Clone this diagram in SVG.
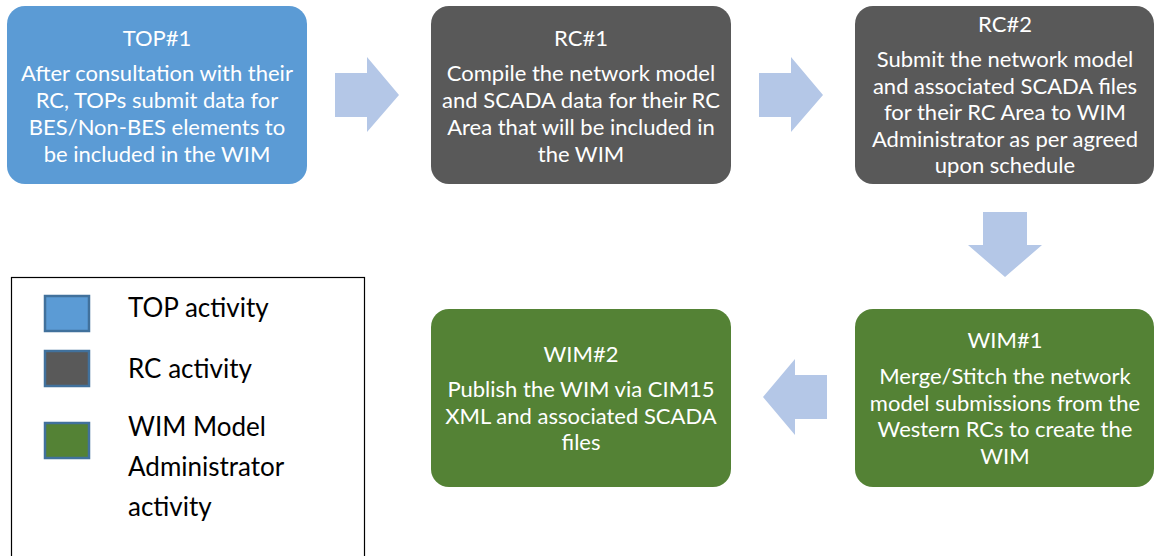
<svg xmlns="http://www.w3.org/2000/svg" width="1155" height="556" viewBox="0 0 1155 556">
<style>
.t{font-family:Lato,"Open Sans","Liberation Sans",sans-serif;font-size:22px;fill:#ffffff;text-anchor:middle}
.lg{font-family:Lato,"Open Sans","Liberation Sans",sans-serif;font-size:26px;fill:#000000}
.arr{fill:#B4C7E7}
.sw{stroke:#41719C;stroke-width:2.5}
</style>
<rect width="1155" height="556" fill="#ffffff"/>
<g id="connectors">
<path class="arr" d="M335,73 H367 V57 L399,95 L367,132 V117 H335 Z"/>
<path class="arr" d="M759,73 H791 V57 L823,95 L791,132 V117 H759 Z"/>
<path class="arr" d="M983,212 H1027 V245 H1042 L1005,277 L968,245 H983 Z"/>
<path class="arr" d="M827,375 H795 V359 L763,397 L795,435 V419 H827 Z"/>
</g>
<g id="top1">
<rect x="7" y="6" width="300" height="178" rx="18" fill="#5B9BD5"/>
<text class="t" x="157" y="46">TOP#1</text>
<text class="t" x="157" y="81">After consultation with their</text>
<text class="t" x="157" y="108">RC, TOPs submit data for</text>
<text class="t" x="157" y="135">BES/Non-BES elements to</text>
<text class="t" x="157" y="162">be included in the WIM</text>
</g>
<g id="rc1">
<rect x="431" y="6" width="300" height="178" rx="18" fill="#595959"/>
<text class="t" x="581" y="46">RC#1</text>
<text class="t" x="581" y="81">Compile the network model</text>
<text class="t" x="581" y="108">and SCADA data for their RC</text>
<text class="t" x="581" y="135">Area that will be included in</text>
<text class="t" x="581" y="162">the WIM</text>
</g>
<g id="rc2">
<rect x="855" y="6" width="299" height="178" rx="18" fill="#595959"/>
<text class="t" x="1005" y="32">RC#2</text>
<text class="t" x="1005" y="67">Submit the network model</text>
<text class="t" x="1005" y="94">and associated SCADA files</text>
<text class="t" x="1005" y="120">for their RC Area to WIM</text>
<text class="t" x="1005" y="147">Administrator as per agreed</text>
<text class="t" x="1005" y="173">upon schedule</text>
</g>
<g id="wim1">
<rect x="855" y="309" width="299" height="178" rx="18" fill="#548235"/>
<text class="t" x="1005" y="348">WIM#1</text>
<text class="t" x="1005" y="384">Merge/Stitch the network</text>
<text class="t" x="1005" y="411">model submissions from the</text>
<text class="t" x="1005" y="437">Western RCs to create the</text>
<text class="t" x="1005" y="464">WIM</text>
</g>
<g id="wim2">
<rect x="431" y="309" width="300" height="178" rx="18" fill="#548235"/>
<text class="t" x="581" y="362">WIM#2</text>
<text class="t" x="581" y="397">Publish the WIM via CIM15</text>
<text class="t" x="581" y="424">XML and associated SCADA</text>
<text class="t" x="581" y="450">files</text>
</g>
<g id="legend">
<rect x="11.5" y="277.5" width="353" height="290" fill="none" stroke="#000000" stroke-width="1.2"/>
<rect class="sw" x="45" y="296" width="44" height="35" fill="#5B9BD5"/>
<rect class="sw" x="45" y="351" width="44" height="35" fill="#595959"/>
<rect class="sw" x="45" y="423" width="44" height="35" fill="#548235"/>
<text class="lg" x="128" y="317">TOP activity</text>
<text class="lg" x="128" y="378">RC activity</text>
<text class="lg" x="128" y="436">WIM Model</text>
<text class="lg" x="128" y="476">Administrator</text>
<text class="lg" x="128" y="516">activity</text>
</g>
</svg>
